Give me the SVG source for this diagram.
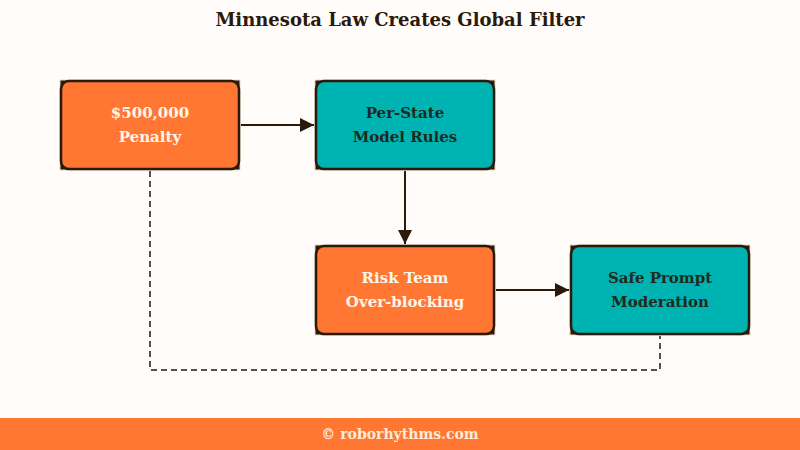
<svg xmlns="http://www.w3.org/2000/svg" width="800" height="450" viewBox="0 0 800 450">
  <defs>
    <style>
      .bg { fill: #fffcfa; }
      .title { font-family: "DejaVu Serif", "Liberation Serif", serif; font-weight: bold; font-size: 18px; fill: #2b1a0a; }
      .lbl { font-family: "DejaVu Serif", "Liberation Serif", serif; font-weight: bold; font-size: 15px; text-anchor: middle; }
      .lbl-light { fill: #fff6ea; }
      .lbl-dark { fill: #1e2a1e; }
      .frame { fill: #2b1a0a; stroke: #e6d9c8; stroke-width: 1; }
      .orange { fill: #ff7733; stroke: #2b1a0a; stroke-width: 2.5; }
      .teal { fill: #00b3b3; stroke: #2b1a0a; stroke-width: 2.5; }
      .edge { fill: none; stroke: #2b1a0a; stroke-width: 2; }
      .dash { fill: none; stroke: #555049; stroke-width: 2; stroke-dasharray: 6 4; }
      .footer-text { font-family: "DejaVu Serif", "Liberation Serif", serif; font-weight: bold; font-size: 14px; fill: #fdebd6; text-anchor: middle; }
    </style>
    <marker id="arrow" viewBox="0 0 10 10" refX="10" refY="5" markerWidth="14" markerHeight="14" markerUnits="userSpaceOnUse" orient="auto">
      <path d="M0,0 L10,5 L0,10 z" fill="#2b1a0a"/>
    </marker>
  </defs>

  <rect class="bg" x="0" y="0" width="800" height="450"/>

  <text class="title" x="400" y="26" text-anchor="middle">Minnesota Law Creates Global Filter</text>

  <g id="connectors">
    <line class="edge" x1="241" y1="125" x2="314" y2="125" marker-end="url(#arrow)"/>
    <line class="edge" x1="405" y1="171" x2="405" y2="244" marker-end="url(#arrow)"/>
    <line class="edge" x1="496" y1="290" x2="569" y2="290" marker-end="url(#arrow)"/>
    <polyline class="dash" points="150,171 150,370 660,370 660,336"/>
  </g>

  <g id="node-penalty">
    <rect class="frame" x="60" y="80" width="180" height="90"/>
    <rect class="orange" x="61" y="81" width="178" height="88" rx="8"/>
    <text class="lbl lbl-light" x="150" y="118">$500,000</text>
    <text class="lbl lbl-light" x="150" y="142">Penalty</text>
  </g>

  <g id="node-per-state">
    <rect class="frame" x="315" y="80" width="180" height="90"/>
    <rect class="teal" x="316" y="81" width="178" height="88" rx="8"/>
    <text class="lbl lbl-dark" x="405" y="118">Per-State</text>
    <text class="lbl lbl-dark" x="405" y="142">Model Rules</text>
  </g>

  <g id="node-risk-team">
    <rect class="frame" x="315" y="245" width="180" height="90"/>
    <rect class="orange" x="316" y="246" width="178" height="88" rx="8"/>
    <text class="lbl lbl-light" x="405" y="283">Risk Team</text>
    <text class="lbl lbl-light" x="405" y="307">Over-blocking</text>
  </g>

  <g id="node-safe-prompt">
    <rect class="frame" x="570" y="245" width="180" height="90"/>
    <rect class="teal" x="571" y="246" width="178" height="88" rx="8"/>
    <text class="lbl lbl-dark" x="660" y="283">Safe Prompt</text>
    <text class="lbl lbl-dark" x="660" y="307">Moderation</text>
  </g>

  <g id="footer">
    <rect x="0" y="418" width="800" height="32" fill="#ff7733"/>
    <text class="footer-text" x="400" y="439">© roborhythms.com</text>
  </g>
</svg>
